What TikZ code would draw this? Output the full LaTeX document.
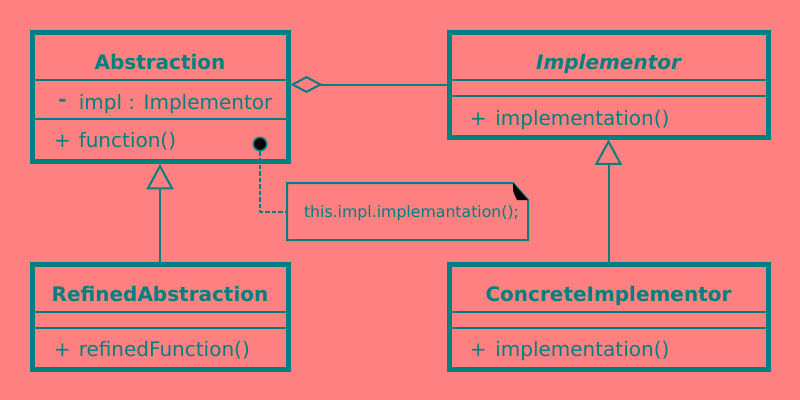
\documentclass[tikz,border=0pt]{standalone}
\usepackage{fontspec}
\setmainfont{DejaVu Sans}
\usetikzlibrary{calc}
\usetikzlibrary{arrows.meta}

\begin{document}
\begin{tikzpicture}[line cap=round,line join=round,x=0.75pt,y=-0.75pt,
  classbox/.style={rectangle,draw=qqzzzz,line width=3.75pt,line cap=butt,line join=miter,inner sep=0pt},
  classname/.style={text=qqzzzz,anchor=base,inner sep=0pt,font=\fontsize{15pt}{18pt}\selectfont\bfseries},
  visib/.style={text=qqzzzz,anchor=base,inner sep=0pt,font=\fontsize{15pt}{18pt}\selectfont},
  member/.style={text=qqzzzz,anchor=base west,inner sep=0pt,font=\fontsize{15pt}{18pt}\selectfont},
  sepline/.style={draw=qqzzzz,line width=1.5pt,line cap=butt},
  inherit/.style={draw=qqzzzz,line width=1.5pt,-{Triangle[open,length=19pt,width=20.25pt]}},
  aggr/.style={draw=qqzzzz,line width=1.5pt,{Diamond[open,length=24pt,width=12.75pt]}-},
  notebox/.style={rectangle,inner sep=0pt,outer sep=0pt,minimum width=180.75pt,minimum height=42.75pt},
  dot/.style={circle,fill=black,draw=qqzzzz,line width=1.2pt,minimum size=10pt,inner sep=0pt}]
\definecolor{qqzzzz}{rgb}{0.,0.5,0.5}
\definecolor{ffzzzz}{rgb}{1.,0.5,0.5}
\fill[color=ffzzzz] (0,0) rectangle (800,400);
\useasboundingbox (0,0) rectangle (800,400);
% class boxes
\node[classbox,minimum width=192pt,minimum height=97.125pt] (abstraction) at (160,96.75) {};
\node[classbox,minimum width=239.25pt,minimum height=78.75pt] (implementor) at (608.5,84.5) {};
\node[classbox,minimum width=192pt,minimum height=78.75pt] (refined) at (160,316.5) {};
\node[classbox,minimum width=239.25pt,minimum height=78.75pt] (concrete) at (608.5,316.5) {};
\draw[sepline] (abstraction.west |- 0,80) -- (abstraction.east |- 0,80);
\draw[sepline] (abstraction.west |- 0,119) -- (abstraction.east |- 0,119);
\draw[sepline] (implementor.west |- 0,80) -- (implementor.east |- 0,80);
\draw[sepline] (implementor.west |- 0,96) -- (implementor.east |- 0,96);
\draw[sepline] (refined.west |- 0,312) -- (refined.east |- 0,312);
\draw[sepline] (refined.west |- 0,328) -- (refined.east |- 0,328);
\draw[sepline] (concrete.west |- 0,312) -- (concrete.east |- 0,312);
\draw[sepline] (concrete.west |- 0,328) -- (concrete.east |- 0,328);
% texts
\node[classname] (abstractionname) at (160,69) {Abstraction};
\node[visib,font=\fontsize{15pt}{18pt}\selectfont\bfseries] (implvis) at (62.5,106.5) {-};
\node[member] (impl) at (78.5,109.5) {impl : Implementor};
\node[visib] (functionvis) at (62.5,147.5) {+};
\node[member] (function) at (78.5,147.5) {function()};
\node[classname] (implementorname) at (608.5,69) {\itshape Implementor};
\node[visib] (implementationvis) at (478.3,125) {+};
\node[member] (implementation) at (495,125) {implementation()};
\node[classname] (refinedname) at (160,301) {RefinedAbstraction};
\node[visib] (refinedvis) at (62.5,356.5) {+};
\node[member] (refinedfunction) at (78.5,356.5) {refinedFunction()};
\node[classname] (concretename) at (608.5,301) {ConcreteImplementor};
\node[visib] (concretevis) at (478.3,356.5) {+};
\node[member] (concreteimplementation) at (495,356.5) {implementation()};
% relations
\draw[aggr] (abstraction.east |- implementor.west) -- (implementor.west);
\draw[inherit] (refined.north) -- (abstraction.south);
\draw[inherit] (concrete.north) -- (implementor.south);
% note
\node[notebox] (note) at (407.5,211.5) {};
\draw[qqzzzz,line width=1.5pt,line join=miter] (note.north west) -- ($(note.north east)+(-15,0)$) -- ($(note.north east)+(0,17)$) -- (note.south east) -- (note.south west) -- cycle;
\fill[black] ($(note.north east)+(-15,0)$) -- ($(note.north east)+(0,17)$) -- ($(note.north east)+(-11,17)$) .. controls ($(note.north east)+(-15,9)$) .. ($(note.north east)+(-15,0)$) -- cycle;
\node[text=qqzzzz,anchor=base,inner sep=0pt,font=\fontsize{11.8pt}{14pt}\selectfont] (code) at (411.5,217) {this.impl.implemantation();};
\node[dot] (dot) at (260,144) {};
\draw[qqzzzz,line width=1.5pt,line cap=butt,dash pattern=on 3.4pt off 1.5pt] (dot) |- (note.west);
\end{tikzpicture}
\end{document}
